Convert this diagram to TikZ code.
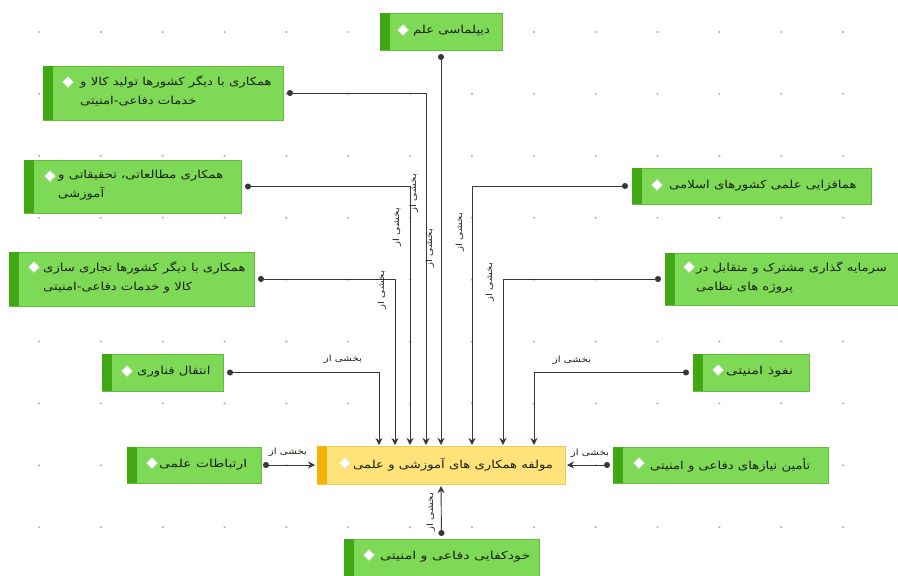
\documentclass[tikz,border=0pt]{standalone}
\usepackage{fontspec}
\newfontfamily\arabicfont[Script=Arabic,FakeStretch=1.2]{DejaVu Sans}
\TeXXeTstate=1
\usetikzlibrary{arrows.meta,shapes.geometric,calc}
\definecolor{gfill}{HTML}{7ED957}
\definecolor{gline}{HTML}{62BD40}
\definecolor{gstrip}{HTML}{3FA814}
\definecolor{yfill}{HTML}{FFE27A}
\definecolor{yline}{HTML}{F2CC50}
\definecolor{ystrip}{HTML}{F5B20A}
\definecolor{linec}{HTML}{383838}
\definecolor{gridc}{HTML}{B5B5B5}
\definecolor{txtc}{HTML}{182212}
\newcommand{\rl}[1]{\beginR #1\endR}
\newcommand{\mkbox}[6]{%
  \node[#2, minimum width={#5pt-#3pt}, minimum height={#6pt-#4pt}] (#1) at ({(#3+#5)/2},{(#4+#6)/2}) {};}
\tikzset{
  gbox/.style={draw=gline, fill=gfill, line width=0.8pt, inner sep=0pt, outer sep=0pt},
  ybox/.style={draw=yline, fill=yfill, line width=0.8pt, inner sep=0pt, outer sep=0pt},
  btext/.style={font=\arabicfont\fontsize{11}{19}\selectfont, text=txtc, align=left, inner sep=0pt, anchor=west},
  dmd/.style={diamond, fill=white, draw=black!12, line width=0.5pt, minimum size=11pt, inner sep=0pt},
  conn/.style={draw=linec, line width=0.9pt, {Circle[length=6pt]}-{Stealth[length=7pt,width=7pt]}},
  lbl/.style={font=\arabicfont\fontsize{8.5}{10}\selectfont, text=txtc, inner sep=0pt}
}
\begin{document}
\begin{tikzpicture}[x=1pt,y=-1pt]
\useasboundingbox (0,0) rectangle (898,576);
\fill[white] (0,0) rectangle (898,576);
% grid
\foreach \i in {0,...,13}{\foreach \j in {0,...,8}{
  \fill[gridc] ({39+61.85*\i},{32+61.9*\j}) circle (1.2pt);}}
% boxes
\mkbox{b1}{gbox}{380}{13}{502}{50}
\mkbox{b2}{gbox}{43}{66}{283}{120}
\mkbox{b3}{gbox}{24}{160}{241}{213}
\mkbox{b4}{gbox}{9}{252}{254}{306}
\mkbox{b5}{gbox}{102}{354}{223}{391}
\mkbox{b6}{gbox}{632}{168}{871}{204}
\mkbox{b7}{gbox}{665}{253}{902}{305}
\mkbox{b8}{gbox}{693}{354}{809}{391}
\mkbox{c}{ybox}{317}{446}{565}{484}
\mkbox{b10}{gbox}{127}{447}{261}{483}
\mkbox{b11}{gbox}{613}{447}{828}{483}
\mkbox{b12}{gbox}{344}{539}{539}{582}
\foreach \b in {b1,b2,b3,b4,b5,b6,b7,b8,b10,b11,b12}{
  \fill[gstrip] (\b.north west) rectangle ($(\b.south west)+(10,0)$);}
\fill[ystrip] (c.north west) rectangle ($(c.south west)+(10,0)$);
% diamonds
\node[dmd] (d1) at (403,30) {};
\node[dmd] (d2) at (68,82) {};
\node[dmd] (d3) at (50,176) {};
\node[dmd] (d4) at (34,267) {};
\node[dmd] (d5) at (127,371) {};
\node[dmd] (d6) at (657,185) {};
\node[dmd] (d7) at (689,267) {};
\node[dmd] (d8) at (718,370) {};
\node[dmd] (d9) at (345,463) {};
\node[dmd] (d10) at (152,463) {};
\node[dmd] (d11) at (639,463) {};
\node[dmd] (d12) at (369,555) {};
% texts
\node[btext] (t1) at (413,31) {\rl{دیپلماسی علم}};
\node[btext] (t2) at (80,91) {\rl{همکاری با دیگر کشورها تولید کالا و}\\\rl{خدمات دفاعی-امنیتی}};
\node[btext] (t3) at (58,185.5) {\rl{همکاری مطالعاتی، تحقیقاتی و}\\\rl{آموزشی}};
\node[btext] (t4) at (43,277) {\rl{همکاری با دیگر کشورها تجاری سازی}\\\rl{کالا و خدمات دفاعی-امنیتی}};
\node[btext] (t5) at (137,372) {\rl{انتقال فناوری}};
\node[btext] (t6) at (669,186) {\rl{همافزایی علمی کشورهای اسلامی}};
\node[btext] (t7) at (696,277) {\rl{سرمایه گذاری مشترک و متقابل در}\\\rl{پروژه های نظامی}};
\node[btext] (t8) at (726,372) {\scalebox{1.1}[1]{\rl{نفوذ امنیتی}}};
\node[btext] (t9) at (353,465) {\rl{مولفه همکاری های آموزشی و علمی}};
\node[btext] (t10) at (159,465) {\scalebox{1.05}[1]{\rl{ارتباطات علمی}}};
\node[btext] (t11) at (650,465) {\rl{تأمین نیازهای دفاعی و امنیتی}};
\node[btext] (t12) at (380,557) {\scalebox{1.07}[1]{\rl{خودکفایی دفاعی و امنیتی}}};
% connectors
\draw[conn] ($(b1.south)+(0,4)$) -- ($(c.north)+(0,-1)$);
\draw[conn] ($(b2.east)+(4,0)$) -| ($(c.north)+(-15,-1)$);
\draw[conn] ($(b3.east)+(4,0)$) -| ($(c.north)+(-31,-1)$);
\draw[conn] ($(b4.east)+(4,0)$) -| ($(c.north)+(-46,-1)$);
\draw[conn] ($(b5.east)+(4,0)$) -| ($(c.north)+(-62,-1)$);
\draw[conn] ($(b6.west)+(-4,0)$) -| ($(c.north)+(31,-1)$);
\draw[conn] ($(b7.west)+(-4,0)$) -| ($(c.north)+(62,-1)$);
\draw[conn] ($(b8.west)+(-4,0)$) -| ($(c.north)+(93,-1)$);
\draw[conn] ($(b10.east)+(2,0)$) -- ($(c.west)+(-2,0)$);
\draw[conn] ($(b11.west)+(-3,0)$) -- ($(c.east)+(2,0)$);
\draw[conn] ($(b12.north)+(0,-3)$) -- ($(c.south)+(0,2)$);
% labels
\node[lbl, rotate=90] (l4) at (382,290) {\rl{بخشی از}};
\node[lbl, rotate=90] (l3) at (397,227) {\rl{بخشی از}};
\node[lbl, rotate=90] (l2) at (414,193) {\rl{بخشی از}};
\node[lbl, rotate=90] (l1) at (430,248) {\rl{بخشی از}};
\node[lbl, rotate=90] (l6) at (460,232) {\rl{بخشی از}};
\node[lbl, rotate=90] (l7) at (490,282) {\rl{بخشی از}};
\node[lbl] (l5) at (343,359) {\rl{بخشی از}};
\node[lbl] (l8) at (572,360) {\rl{بخشی از}};
\node[lbl] (l10) at (288,452) {\rl{بخشی از}};
\node[lbl] (l11) at (590,453) {\rl{بخشی از}};
\node[lbl, rotate=90] (l12) at (431,512) {\rl{بخشی از}};
\end{tikzpicture}
\end{document}
